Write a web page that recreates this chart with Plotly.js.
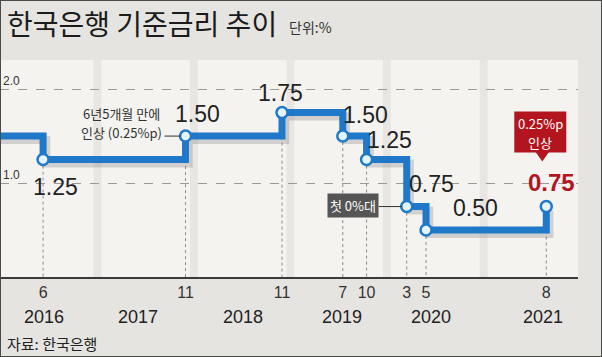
<!DOCTYPE html>
<html><head><meta charset="utf-8">
<script src="https://cdn.plot.ly/plotly-3.0.1.min.js"></script>
<style>
html,body{margin:0;padding:0;background:#e6e4e0}
#chart{width:602px;height:357px}
#frame{position:absolute;left:0;top:0;width:602px;height:357px;border:1px solid #4a4a4a;box-sizing:border-box;pointer-events:none}
</style>
</head><body><div id="chart"></div><div id="frame"></div>
<script>
// ---- data ----
const rateDates = ['2015-06-11','2016-06-09','2017-11-30','2018-11-30','2019-07-18','2019-10-16','2020-03-16','2020-05-28','2021-08-26'];
const rateValues = [1.50, 1.25, 1.50, 1.75, 1.50, 1.25, 0.75, 0.50, 0.75];
const rateLabels = ['1.50','1.25','1.50','1.75','1.50','1.25','0.75','0.50','0.75'];
const monthTickDates = ['2016-06-09','2017-11-30','2018-11-30','2019-07-18','2019-10-16','2020-03-16','2020-05-28','2021-08-26'];
const monthTickLabels = ['6','11','11','7','10','3','5','8'];
const yearLabels = ['2016','2017','2018','2019','2020','2021'];
const yearLabelDates = ['2016-06-13','2017-06-03','2018-07-06','2019-07-16','2020-06-16','2021-08-15'];
const yearBoundaries = ['2017-01-01','2018-01-01','2019-01-01','2020-01-01','2021-01-01'];
const yTickVals = [1, 2];
const yTickText = ['1.0', '2.0'];
const noteHike2017 = ['6년5개월 만에', '인상 (0.25%p)'];
const noteZero = '첫 0%대';
const noteHike2021 = ['0.25%p', '인상'];

// ---- styling ----
const NUM = "'Liberation Sans','DejaVu Sans Condensed',sans-serif";
const KR = "'Noto Sans CJK KR',sans-serif";
const BLUE = '#1f78c8';
const RED = '#b3151f';
const X0 = '2015-12-29', X1 = '2021-12-24';
const Y0 = 0, Y1 = 2.31;
const plotW = 578, plotH = 217;
// label offsets in px (xshift, yshift) for each changed-rate label (skip first point)
const labelShift = [[12,-27],[12,22],[-2,20],[23,21],[23,20],[25,23],[49,22],[5,24]];

const msPerPx = (new Date(X1) - new Date(X0)) / plotW;
const unitPerPx = (Y1 - Y0) / plotH;
function iso(ms){ return new Date(ms).toISOString().slice(0,10); }
const sx = 3 * msPerPx, sy = 4 * unitPerPx;

const changeDates = rateDates.slice(1), changeVals = rateValues.slice(1), changeLabels = rateLabels.slice(1);

const dropX = [], dropY = [];
changeDates.forEach((d,i)=>{ dropX.push(d,d,null); dropY.push(changeVals[i],0,null); });

const traces = [
  {x: dropX, y: dropY, mode:'lines', line:{color:'#8c8c8c', width:1, dash:'dot'}, hoverinfo:'skip', xaxis:'x', yaxis:'y'},
  {x: rateDates, y: rateValues, mode:'lines', line:{shape:'hv', color:'rgba(70,70,70,0.2)', width:8}, hoverinfo:'skip', xaxis:'x2', yaxis:'y2'},
  {x: rateDates, y: rateValues, mode:'lines', line:{shape:'hv', color:BLUE, width:7}, xaxis:'x3', yaxis:'y3'},
  {x: changeDates, y: changeVals, mode:'markers', marker:{size:11, color:'#e2f3fb', line:{color:BLUE, width:2.5}}, xaxis:'x3', yaxis:'y3'}
];

function P(xpx, ypx){ return {x: xpx/plotW, y: (277-ypx)/plotH}; }

const annotations = [];
const t = P(5,23);
annotations.push({xref:'paper', yref:'paper', x:t.x, y:t.y, xanchor:'left', yanchor:'middle', showarrow:false,
  text:'한국은행 기준금리 추이', font:{family:KR, size:28, color:'#1b1b1b'}});
const u = P(287,27);
annotations.push({xref:'paper', yref:'paper', x:u.x, y:u.y, xanchor:'left', yanchor:'middle', showarrow:false,
  text:'단위:%', font:{family:KR, size:14, color:'#333'}});
const s = P(5,343);
annotations.push({xref:'paper', yref:'paper', x:s.x, y:s.y, xanchor:'left', yanchor:'middle', showarrow:false,
  text:'자료: 한국은행', font:{family:KR, size:15, color:'#222'}});

yearLabels.forEach((yl,i)=>{
  annotations.push({xref:'x', yref:'paper', x:yearLabelDates[i], y:0, yshift:-40, xanchor:'center', yanchor:'middle',
    showarrow:false, text:yl, font:{family:NUM, size:18, color:'#222'}});
});

changeDates.forEach((d,i)=>{
  const last = i === changeDates.length-1;
  annotations.push({xref:'x', yref:'y', x:d, y:changeVals[i], xshift:labelShift[i][0], yshift:labelShift[i][1],
    xanchor:'center', yanchor:'middle', showarrow:false, text: last ? '<b>'+changeLabels[i]+'</b>' : changeLabels[i],
    font:{family:NUM, size: last ? 24 : 23, color: last ? RED : '#222'}});
});

function note(i, text, dx, dy, color){
  annotations.push({xref:'x', yref:'y', x:changeDates[i], y:changeVals[i], xshift:dx, yshift:dy, showarrow:false,
    xanchor:'center', yanchor:'middle', text:text, font:{family:KR, size:13, color:color}});
}
// callout: 2017-11
note(1, noteHike2017[0], -64, 23, '#333');
note(1, noteHike2017[1], -64, 4, '#333');
// callout: first 0% range
annotations.push({xref:'x', yref:'y', x:changeDates[5], y:changeVals[5], xshift:-54, yshift:1, showarrow:false,
  xanchor:'center', yanchor:'middle', text:noteZero, bgcolor:'#555', borderpad:2, font:{family:KR, size:13, color:'#fff'}});
// red callout: latest hike
note(7, noteHike2021[0], -6, 83, '#fff');
note(7, noteHike2021[1], -6, 64, '#fff');

const shapes = yearBoundaries.map(d=>{
  const c = new Date(d).getTime();
  return {type:'rect', xref:'x', yref:'paper', x0:iso(c-15*86400000), x1:iso(c+15*86400000), y0:0, y1:1,
    fillcolor:'#e8e6e2', line:{width:0}, layer:'below'};
});
// connector lines, red box and pointer (pixel-sized, anchored to data points)
const pix = (i, extra) => Object.assign({xref:'x', yref:'y', xsizemode:'pixel', ysizemode:'pixel',
  xanchor:changeDates[i], yanchor:changeVals[i]}, extra);
shapes.push(pix(1, {type:'line', x0:-21, x1:-5, y0:0, y1:0, line:{color:'#333', width:1}}));
shapes.push(pix(5, {type:'line', x0:-28, x1:-5, y0:0, y1:0, line:{color:'#333', width:1}}));
shapes.push(pix(7, {type:'rect', x0:-32, x1:20, y0:54, y1:95, fillcolor:RED, line:{width:0}}));
shapes.push(pix(7, {type:'path', path:'M -11 55 L 3 55 L -4 45 Z', fillcolor:RED, line:{width:0}}));

const hiddenAx = {visible:false, showgrid:false, zeroline:false, fixedrange:true};
const layout = {
  width:602, height:357,
  margin:{l:0, r:24, t:60, b:80},
  paper_bgcolor:'#e6e4e0', plot_bgcolor:'#f4f3f0',
  showlegend:false,
  xaxis:{type:'date', range:[X0,X1], showgrid:false, zeroline:false, showline:true, linecolor:'#3a3a3a', linewidth:1.5,
    tickmode:'array', tickvals:monthTickDates, ticktext:monthTickLabels, ticks:'',
    tickfont:{family:NUM, size:16, color:'#333'}, fixedrange:true},
  yaxis:{range:[Y0,Y1], tickmode:'array', tickvals:yTickVals, ticktext:yTickText, showgrid:true, gridcolor:'#9a9a9a',
    griddash:'dash', gridwidth:1, zeroline:false, showline:false, ticks:'', ticklabelposition:'inside top',
    tickfont:{family:NUM, size:12, color:'#333'}, fixedrange:true},
  xaxis2:Object.assign({type:'date', overlaying:'x', range:[iso(new Date(X0).getTime()-sx), iso(new Date(X1).getTime()-sx)]}, hiddenAx),
  yaxis2:Object.assign({overlaying:'y', range:[Y0+sy, Y1+sy]}, hiddenAx),
  xaxis3:Object.assign({type:'date', overlaying:'x', range:[X0,X1]}, hiddenAx),
  yaxis3:Object.assign({overlaying:'y', range:[Y0,Y1]}, hiddenAx),
  annotations, shapes
};
Plotly.newPlot('chart', traces, layout, {staticPlot:true, displayModeBar:false});
</script>
</body></html>
